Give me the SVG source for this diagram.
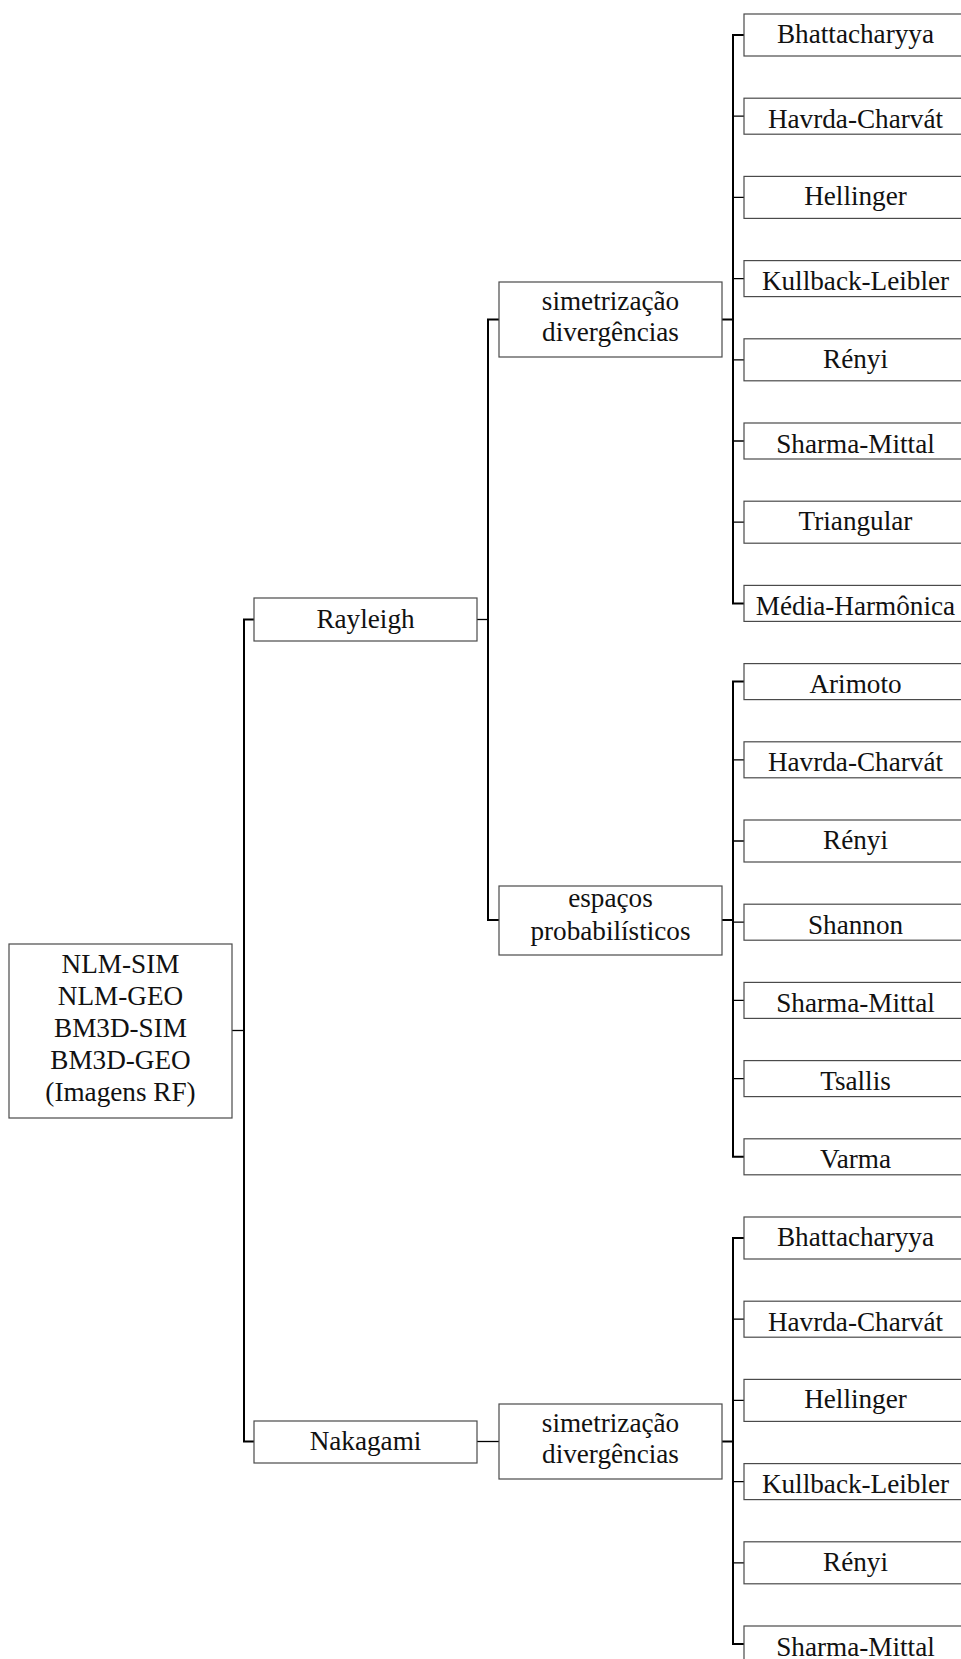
<svg xmlns="http://www.w3.org/2000/svg" width="961" height="1659" viewBox="0 0 961 1659">
  <style>
    .box { fill: #ffffff; stroke: #4a4a4a; stroke-width: 1.2; }
    .lbl { font-family: "Liberation Serif", "Times New Roman", serif; font-size: 27.2px; fill: #111111; text-anchor: middle; }
    .trunk { fill: none; stroke: #000000; stroke-width: 2; }
    .stub { fill: none; stroke: #000000; stroke-width: 1.3; }
  </style>
  <rect x="0" y="0" width="961" height="1659" fill="#ffffff"/>

  <!-- connectors -->
  <g id="connectors">
    <!-- root to distributions -->
    <path class="stub" d="M232,1030.5 H244"/>
    <path class="trunk" d="M254,619.5 H244 V1441.5 H254"/>
    <!-- Rayleigh to its two families -->
    <path class="stub" d="M477,619.5 H488"/>
    <path class="trunk" d="M499,319.5 H488 V920 H499"/>
    <!-- Nakagami to its single family -->
    <path class="stub" d="M477,1441.5 H499"/>
    <!-- simetrização (Rayleigh) to leaves -->
    <path class="trunk" d="M722,319.5 H733"/>
    <path class="trunk" d="M744,35 H733 V603.4 H744"/>
    <path class="stub" d="M733,116.2 H744 M733,197.4 H744 M733,278.6 H744 M733,359.8 H744 M733,441 H744 M733,522.2 H744"/>
    <!-- espaços probabilísticos to leaves -->
    <path class="trunk" d="M722,920 H733"/>
    <path class="trunk" d="M744,681.6 H733 V1156.8 H744"/>
    <path class="stub" d="M733,759.8 H744 M733,841 H744 M733,922.2 H744 M733,1000.4 H744 M733,1078.6 H744"/>
    <!-- simetrização (Nakagami) to leaves -->
    <path class="trunk" d="M722,1441.5 H733"/>
    <path class="trunk" d="M744,1238 H733 V1644 H744"/>
    <path class="stub" d="M733,1319.2 H744 M733,1400.4 H744 M733,1481.6 H744 M733,1562.8 H744"/>
  </g>

  <!-- root -->
  <g id="root">
    <rect class="box" x="9" y="944" width="223" height="174"/>
    <text class="lbl" x="120.5" y="972.5">NLM-SIM</text>
    <text class="lbl" x="120.5" y="1004.5">NLM-GEO</text>
    <text class="lbl" x="120.5" y="1036.5">BM3D-SIM</text>
    <text class="lbl" x="120.5" y="1068.5">BM3D-GEO</text>
    <text class="lbl" x="120.5" y="1100.5">(Imagens RF)</text>
  </g>

  <!-- distributions -->
  <g id="rayleigh">
    <rect class="box" x="254" y="598" width="223" height="43"/>
    <text class="lbl" x="365.5" y="627.5">Rayleigh</text>
  </g>
  <g id="nakagami">
    <rect class="box" x="254" y="1421" width="223" height="42"/>
    <text class="lbl" x="365.5" y="1450">Nakagami</text>
  </g>

  <!-- families -->
  <g id="ray-simetrizacao">
    <rect class="box" x="499" y="282" width="223" height="75"/>
    <text class="lbl" x="610.5" y="310">simetrização</text>
    <text class="lbl" x="610.5" y="341">divergências</text>
  </g>
  <g id="ray-espacos">
    <rect class="box" x="499" y="886" width="223" height="69"/>
    <text class="lbl" x="610.5" y="907">espaços</text>
    <text class="lbl" x="610.5" y="940">probabilísticos</text>
  </g>
  <g id="nak-simetrizacao">
    <rect class="box" x="499" y="1404" width="223" height="75"/>
    <text class="lbl" x="610.5" y="1432">simetrização</text>
    <text class="lbl" x="610.5" y="1463">divergências</text>
  </g>

  <!-- measures: simetrização (Rayleigh) -->
  <g id="r-s-bhattacharyya"><rect class="box" x="744" y="14" width="223" height="42"/><text class="lbl" x="855.5" y="43">Bhattacharyya</text></g>
  <g id="r-s-havrda"><rect class="box" x="744" y="98.2" width="223" height="36"/><text class="lbl" x="855.5" y="127.8">Havrda-Charvát</text></g>
  <g id="r-s-hellinger"><rect class="box" x="744" y="176.4" width="223" height="42"/><text class="lbl" x="855.5" y="205.4">Hellinger</text></g>
  <g id="r-s-kullback"><rect class="box" x="744" y="260.6" width="223" height="36"/><text class="lbl" x="855.5" y="290.2">Kullback-Leibler</text></g>
  <g id="r-s-renyi"><rect class="box" x="744" y="338.8" width="223" height="42"/><text class="lbl" x="855.5" y="367.8">Rényi</text></g>
  <g id="r-s-sharma"><rect class="box" x="744" y="423" width="223" height="36"/><text class="lbl" x="855.5" y="452.6">Sharma-Mittal</text></g>
  <g id="r-s-triangular"><rect class="box" x="744" y="501.2" width="223" height="42"/><text class="lbl" x="855.5" y="530.2">Triangular</text></g>
  <g id="r-s-media"><rect class="box" x="744" y="585.4" width="223" height="36"/><text class="lbl" x="855.5" y="615">Média-Harmônica</text></g>

  <!-- measures: espaços probabilísticos -->
  <g id="r-e-arimoto"><rect class="box" x="744" y="663.6" width="223" height="36"/><text class="lbl" x="855.5" y="693.2">Arimoto</text></g>
  <g id="r-e-havrda"><rect class="box" x="744" y="741.8" width="223" height="36"/><text class="lbl" x="855.5" y="771.4">Havrda-Charvát</text></g>
  <g id="r-e-renyi"><rect class="box" x="744" y="820" width="223" height="42"/><text class="lbl" x="855.5" y="849">Rényi</text></g>
  <g id="r-e-shannon"><rect class="box" x="744" y="904.2" width="223" height="36"/><text class="lbl" x="855.5" y="933.8">Shannon</text></g>
  <g id="r-e-sharma"><rect class="box" x="744" y="982.4" width="223" height="36"/><text class="lbl" x="855.5" y="1012">Sharma-Mittal</text></g>
  <g id="r-e-tsallis"><rect class="box" x="744" y="1060.6" width="223" height="36"/><text class="lbl" x="855.5" y="1090.2">Tsallis</text></g>
  <g id="r-e-varma"><rect class="box" x="744" y="1138.8" width="223" height="36"/><text class="lbl" x="855.5" y="1168.4">Varma</text></g>

  <!-- measures: simetrização (Nakagami) -->
  <g id="n-s-bhattacharyya"><rect class="box" x="744" y="1217" width="223" height="42"/><text class="lbl" x="855.5" y="1246">Bhattacharyya</text></g>
  <g id="n-s-havrda"><rect class="box" x="744" y="1301.2" width="223" height="36"/><text class="lbl" x="855.5" y="1330.8">Havrda-Charvát</text></g>
  <g id="n-s-hellinger"><rect class="box" x="744" y="1379.4" width="223" height="42"/><text class="lbl" x="855.5" y="1408.4">Hellinger</text></g>
  <g id="n-s-kullback"><rect class="box" x="744" y="1463.6" width="223" height="36"/><text class="lbl" x="855.5" y="1493.2">Kullback-Leibler</text></g>
  <g id="n-s-renyi"><rect class="box" x="744" y="1541.8" width="223" height="42"/><text class="lbl" x="855.5" y="1570.8">Rényi</text></g>
  <g id="n-s-sharma"><rect class="box" x="744" y="1626" width="223" height="36"/><text class="lbl" x="855.5" y="1655.6">Sharma-Mittal</text></g>
</svg>
